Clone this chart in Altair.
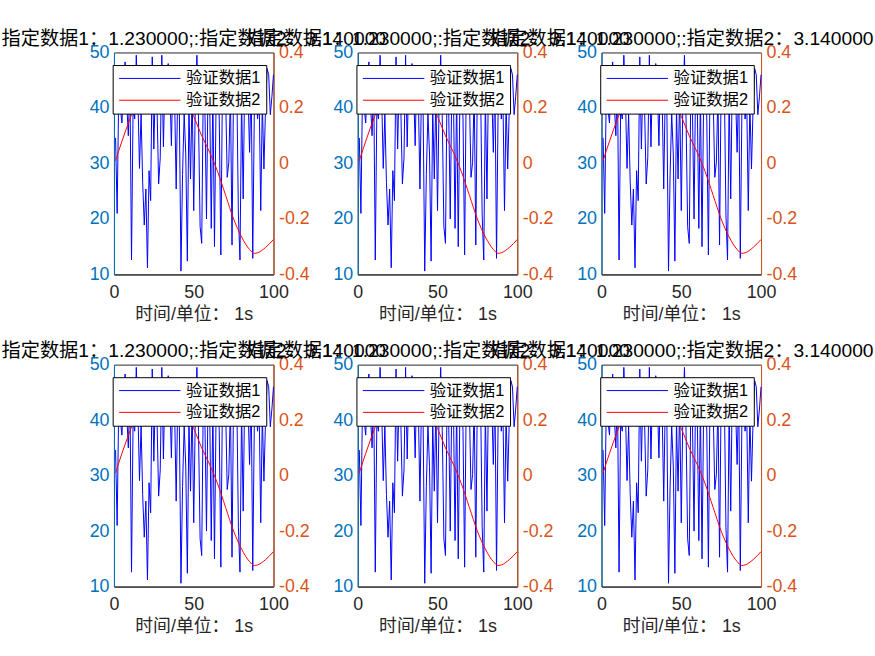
import altair as alt
import pandas as pd

# ---------------- data ----------------
x_blue = list(range(1, 101))
v_blue = [
    34.6, 21.0, 43.0, 40.0, 37.3, 44.0, 48.3, 41.0, 35.0, 45.0,
    12.6, 40.0, 38.0, 49.5, 42.0, 29.1, 39.0, 26.6, 18.9, 25.4,
    11.2, 28.7, 23.3, 49.2, 32.6, 45.0, 40.0, 26.3, 31.0, 49.5,
    33.0, 46.0, 41.0, 48.0, 44.0, 33.2, 47.0, 42.0, 25.4, 44.0,
    39.0, 10.6, 28.0, 39.0, 31.7, 12.4, 40.0, 27.2, 43.0, 21.5,
    41.0, 49.5, 38.0, 18.6, 15.6, 44.0, 40.0, 20.0, 45.0, 42.0,
    18.3, 43.0, 15.0, 41.0, 46.0, 38.0, 13.5, 44.0, 40.0, 42.0,
    27.5, 30.2, 43.0, 15.3, 45.0, 41.0, 44.0, 20.7, 12.6, 42.0,
    23.6, 46.0, 39.0, 43.0, 32.0, 45.0, 12.9, 40.0, 44.0, 38.0,
    42.0, 21.5, 41.0, 29.0, 40.0, 47.1, 46.0, 38.8, 42.0, 46.0,
]
x_red = [1, 5, 10, 15, 20, 25, 30, 35, 40, 45, 50, 55, 60, 65, 70, 75, 80, 85, 88, 90, 95, 100]
v_red = [0.01, 0.08, 0.16, 0.23, 0.28, 0.31, 0.32, 0.31, 0.28, 0.23, 0.17, 0.10, 0.04,
         -0.03, -0.115, -0.20, -0.265, -0.31, -0.324, -0.322, -0.303, -0.274]

series_names = ["验证数据1", "验证数据2"]
line_colors = ["#0000FF", "#FF0000"]
title_text = "指定数据1：1.230000;:指定数据2：3.140000"
x_label = "时间/单位： 1s"
x_ticks = [0, 50, 100]
left_ticks = [10, 20, 30, 40, 50]
right_ticks = [-0.4, -0.2, 0, 0.2, 0.4]

FONT = "Liberation Sans, Arial, Noto Sans CJK SC, sans-serif"
LEFT_C = "#0072BD"
RIGHT_C = "#D95319"
AX_C = "#262626"

df_blue = pd.DataFrame({"x": x_blue, "v": v_blue, "s": series_names[0]})
df_red = pd.DataFrame({"x": x_red, "v": v_red, "s": series_names[1]})


def panel():
    xenc = alt.X(
        "x:Q",
        scale=alt.Scale(domain=[0, 100], nice=False, zero=False),
        axis=alt.Axis(values=x_ticks, title=x_label, ticks=False, grid=False,
                      domainColor=AX_C, labelColor=AX_C, titleColor=AX_C,
                      labelFontSize=18, titleFontSize=18, labelPadding=9,
                      titlePadding=4, titleFontWeight="normal", labelFlush=False),
    )
    legend = alt.Legend(
        orient="none", legendX=-1.3, legendY=12.7, title=None,
        fillColor="white", strokeColor="black", padding=5, cornerRadius=0,
        symbolType="M-4,0H4", symbolSize=240, symbolStrokeWidth=1,
        symbolOffset=24, labelOffset=28, rowPadding=5,
        labelFontSize=16.5, labelColor="black", labelFont=FONT,
    )
    cenc = alt.Color("s:N", scale=alt.Scale(domain=series_names, range=line_colors), legend=legend)
    blue = alt.Chart(df_blue).mark_line(strokeWidth=1).encode(
        x=xenc,
        y=alt.Y("v:Q", scale=alt.Scale(domain=[10, 50], nice=False, zero=False),
                axis=alt.Axis(orient="left", values=left_ticks, title=None, ticks=False, grid=False,
                              domainColor=LEFT_C, labelColor=LEFT_C, labelFontSize=18,
                              labelPadding=5)),
        color=cenc,
    )
    red = alt.Chart(df_red).mark_line(strokeWidth=1, interpolate="monotone").encode(
        x=xenc,
        y=alt.Y("v:Q", scale=alt.Scale(domain=[-0.4, 0.4], nice=False, zero=False),
                axis=alt.Axis(orient="right", values=right_ticks, title=None, ticks=False, grid=False,
                              domainColor=RIGHT_C, labelColor=RIGHT_C, labelFontSize=18,
                              labelPadding=5,
                              labelExpr="datum.value == 0 ? '0' : (datum.value < 0 ? '-' + format(-datum.value, '.1f') : format(datum.value, '.1f'))")),
        color=cenc,
    )
    return alt.layer(blue, red).resolve_scale(y="independent").properties(
        width=161, height=224,
        title=alt.TitleParams(title_text, fontSize=19.4, fontWeight="normal", color="black",
                              font=FONT, offset=-6),
    )


chart = alt.concat(
    *[panel() for _ in range(6)], columns=3,
    spacing={"row": 91, "column": 85}, bounds="flush",
).resolve_scale(color="independent").resolve_legend(color="independent").properties(
    padding={"left": 0, "top": 26, "right": 0, "bottom": 5},
).configure_view(stroke=AX_C, strokeWidth=1).configure_axis(
    labelFont=FONT, titleFont=FONT
).configure_title(font=FONT)

chart.save("out.html", embed_options={"renderer": "svg", "actions": False})
